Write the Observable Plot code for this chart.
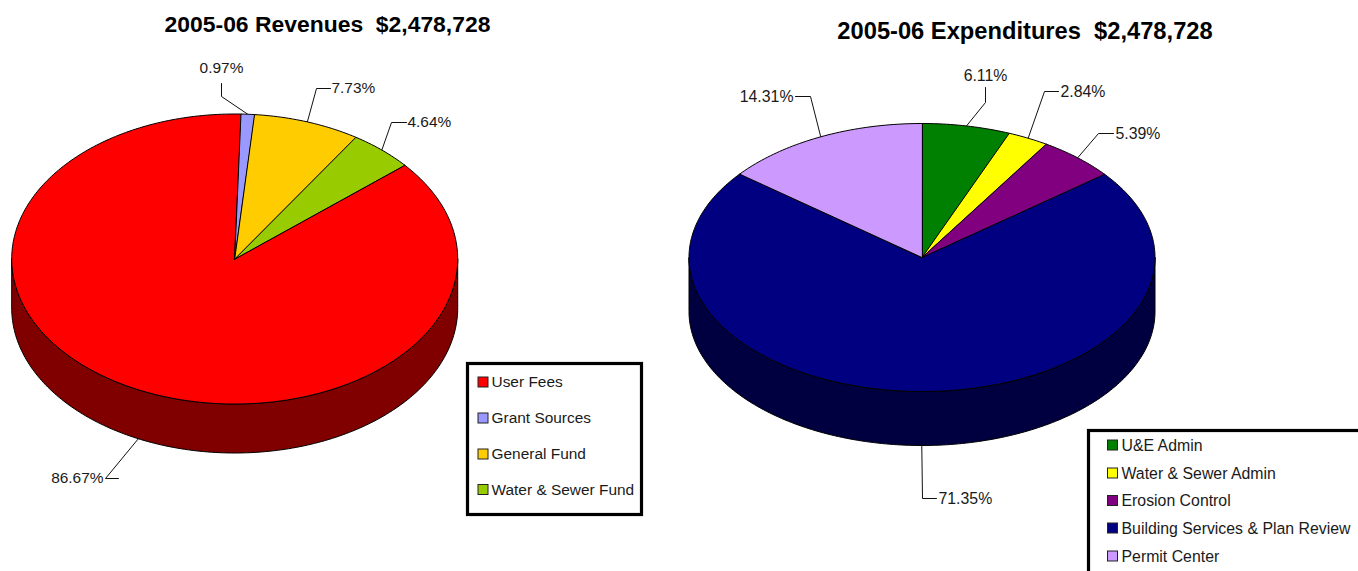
<!DOCTYPE html>
<html>
<head>
<meta charset="utf-8">
<script src="https://cdn.jsdelivr.net/npm/d3@7"></script>
<script src="https://cdn.jsdelivr.net/npm/@observablehq/plot@0.6"></script>
<style>html,body{margin:0;padding:0;background:#fff;overflow:hidden}svg{display:block}</style>
</head>
<body>
<div id="chart"></div>
<script>
// Data
const revenueCategories = ["User Fees", "Grant Sources", "General Fund", "Water & Sewer Fund"];
const revenueShares = [86.67, 0.97, 7.73, 4.64];
const revenueColors = ["#ff0000", "#9999ff", "#ffcc00", "#99cc00"];
const revenueSides = ["#800000", "#4d4d80", "#806600", "#4d6600"];
const revenueTitle = "2005-06 Revenues\u00a0\u00a0$2,478,728";

const expenseCategories = ["U&E Admin", "Water & Sewer Admin", "Erosion Control", "Building Services & Plan Review", "Permit Center"];
const expenseShares = [6.11, 2.84, 5.39, 71.35, 14.31];
const expenseColors = ["#008000", "#ffff00", "#800080", "#000080", "#cc99ff"];
const expenseSides = ["#004000", "#808000", "#400040", "#000040", "#664d80"];
const expenseTitle = "2005-06 Expenditures\u00a0\u00a0$2,478,728";

// Layout (pixels; x and y scales are 1:1 with the frame)
const W = 1358, H = 571;
const FONT = "Liberation Sans, Arial, sans-serif";
const leftPie = {cx: 234.2, cy: 258.5, rx: 223, ry: 145, depth: 49, start: 49.6, font: 15.45};
const rightPie = {cx: 921.5, cy: 257, rx: 233, ry: 134, depth: 54, start: 0, font: 15.85};
const leftCallouts = [
  {elbow: [[105, 478], [118, 478]], tx: 103, ty: 478, anchor: "end"},
  {elbow: [[221, 96], [221, 83]], tx: 221, ty: 68, anchor: "middle"},
  {elbow: [[316, 88], [330, 88]], tx: 331, ty: 88, anchor: "start"},
  {elbow: [[391, 122], [406, 122]], tx: 407, ty: 122, anchor: "start"}
];
const rightCallouts = [
  {elbow: [[985, 102], [985, 87]], tx: 985, ty: 75, anchor: "middle"},
  {elbow: [[1044, 91], [1058, 91]], tx: 1060, ty: 91, anchor: "start"},
  {elbow: [[1098, 133], [1113, 133]], tx: 1115, ty: 133, anchor: "start"},
  {elbow: [[922, 498], [936, 498]], tx: 938, ty: 498, anchor: "start"},
  {elbow: [[810, 96], [795, 96]], tx: 793, ty: 96, anchor: "end"}
];
const leftLegend = {box: [467.5, 363.5, 641.5, 514.5], sx: 478, tx: 491, ys: [382, 418, 454, 489.5], font: 15.45};
const rightLegend = {box: [1088.5, 430.5, 1420, 620], sx: 1107.5, tx: 1121, ys: [445, 473, 500.5, 528, 556], font: 15.85};

const rad = d => d * Math.PI / 180;
const onRim = (p, a, drop = 0) => ({x: p.cx + p.rx * Math.sin(rad(a)), y: p.cy - p.ry * Math.cos(rad(a)) + drop});
function arc(p, a0, a1, drop = 0) {
  const n = Math.max(2, Math.ceil(Math.abs(a1 - a0)));
  return d3.range(n + 1).map(i => onRim(p, a0 + (a1 - a0) * i / n, drop));
}

function buildPie(id, p, shares, colors, sides) {
  const tops = [], walls = [], anchors = [];
  let a = p.start;
  shares.forEach((v, i) => {
    const a0 = a, a1 = a + v * 3.6;
    a = a1;
    tops.push(...[{x: p.cx, y: p.cy}, ...arc(p, a0, a1)].map(q => ({...q, id: `${id}${i}`, fill: colors[i]})));
    // the visible wall is the part of the slice on the front half (90..270 deg, modulo 360)
    for (const k of [0, 360]) {
      const w0 = Math.max(a0, 90 + k), w1 = Math.min(a1, 270 + k);
      if (w1 > w0) walls.push(...[...arc(p, w0, w1), ...arc(p, w1, w0, p.depth)].map(q => ({...q, id: `${id}w${i}${k}`, fill: sides[i]})));
    }
    const mid = (a0 + a1) / 2, mm = ((mid % 360) + 360) % 360;
    anchors.push(onRim(p, mid, mm > 90 && mm < 270 ? p.depth : 0));
  });
  return {tops, walls, anchors};
}

const L = buildPie("L", leftPie, revenueShares, revenueColors, revenueSides);
const R = buildPie("R", rightPie, expenseShares, expenseColors, expenseSides);

function leaders(id, anchors, callouts) {
  return anchors.flatMap((an, i) => [an, ...callouts[i].elbow.map(([x, y]) => ({x, y}))].map(q => ({...q, id: `${id}${i}`})));
}
function labels(shares, callouts) {
  return shares.map((v, i) => ({label: v.toFixed(2) + "%", x: callouts[i].tx, y: callouts[i].ty, anchor: callouts[i].anchor}));
}
const textMarks = (rows, font) => ["start", "middle", "end"].map(anchor => Plot.text(rows.filter(d => d.anchor === anchor), {
  x: "x", y: "y", text: "label", textAnchor: anchor, lineAnchor: "middle",
  fontFamily: FONT, fontSize: font, fill: "#1a1a1a"
}));

function legendMarks(spec, categories, colors) {
  const [x1, y1, x2, y2] = spec.box;
  const rows = categories.map((c, i) => ({c, color: colors[i], y: spec.ys[i]}));
  return [
    Plot.rect([spec.box], {x1: () => x1, y1: () => y1, x2: () => x2, y2: () => y2, fill: "#fff", stroke: "#000", strokeWidth: 3.2}),
    Plot.rect(rows, {x1: () => spec.sx, x2: () => spec.sx + 10, y1: d => d.y - 5, y2: d => d.y + 5, fill: "color", stroke: "#222", strokeWidth: 1}),
    Plot.text(rows, {x: () => spec.tx, y: "y", text: "c", textAnchor: "start", lineAnchor: "middle",
      fontFamily: FONT, fontSize: spec.font, fill: "#1a1a1a"})
  ];
}
const pieMark = rows => Plot.line(rows, {x: "x", y: "y", z: "id", fill: "fill", stroke: "#000", strokeWidth: 1, curve: "linear-closed"});
const titleMark = (t, x, y, size) => Plot.text([t], {x: () => x, y: () => y, text: d => d, textAnchor: "middle", lineAnchor: "middle",
  fontFamily: FONT, fontWeight: "bold", fontSize: size, fill: "#000"});

const chart = Plot.plot({
  width: W, height: H, margin: 0,
  x: {domain: [0, W], range: [0, W], axis: null},
  y: {domain: [0, H], range: [0, H], axis: null},
  color: {type: "identity"},
  style: {background: "#fff"},
  marks: [
    Plot.line(leaders("LL", L.anchors, leftCallouts), {x: "x", y: "y", z: "id", stroke: "#111", strokeWidth: 1, curve: "linear"}),
    Plot.line(leaders("RL", R.anchors, rightCallouts), {x: "x", y: "y", z: "id", stroke: "#111", strokeWidth: 1, curve: "linear"}),
    pieMark(L.walls), pieMark(L.tops),
    pieMark(R.walls), pieMark(R.tops),
    titleMark(revenueTitle, 327, 24, 22.9),
    titleMark(expenseTitle, 1024.5, 31, 23.7),
    ...textMarks(labels(revenueShares, leftCallouts), leftPie.font),
    ...textMarks(labels(expenseShares, rightCallouts), rightPie.font),
    ...legendMarks(leftLegend, revenueCategories, revenueColors),
    ...legendMarks(rightLegend, expenseCategories, expenseColors)
  ]
});
document.getElementById("chart").append(chart);
</script>
</body>
</html>
